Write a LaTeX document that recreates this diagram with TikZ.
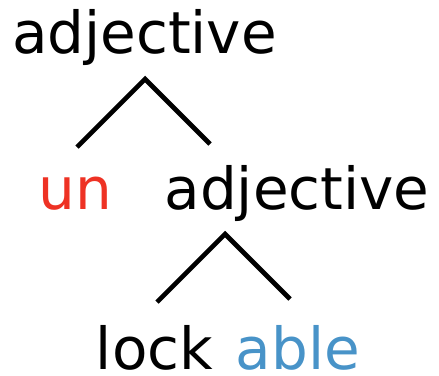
\documentclass[tikz,border=0pt]{standalone}
\usepackage{fontspec}
\setmainfont{DejaVu Sans}
\definecolor{unred}{RGB}{238,50,36}
\definecolor{ableblue}{RGB}{72,147,200}
\begin{document}
\begin{tikzpicture}[x=1pt,y=-1pt,
  word/.style={anchor=base,inner sep=0pt,font=\fontsize{58}{60}\selectfont},
  branch/.style={line width=4.6pt,black}]
\useasboundingbox (0,0) rectangle (439,375);
\node[word] (adj1) at (144.5,53) {adjective};
\node[word,text=unred] (un) at (75.5,209) {un};
\node[word] (adj2) at (297,209) {adjective};
\node[word] (lock) at (154.5,369) {lock};
\node[word,text=ableblue] (able) at (298,369) {able};
\coordinate (t1) at (145,79);
\coordinate (l1) at (77,147);
\coordinate (r1) at (210,144);
\coordinate (t2) at (225,234);
\coordinate (l2) at (157,302);
\coordinate (r2) at (290,299);
\draw[branch] (l1) -- (t1) -- (r1);
\draw[branch] (l2) -- (t2) -- (r2);
\end{tikzpicture}
\end{document}
